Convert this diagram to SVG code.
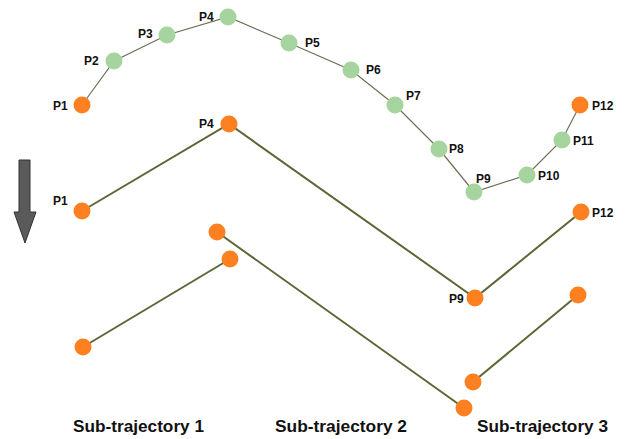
<svg xmlns="http://www.w3.org/2000/svg" width="629" height="439" viewBox="0 0 629 439">
<style>
.thin{stroke:#6e6e55;stroke-width:1.2;fill:none}
.thick{stroke:#5a6836;stroke-width:2;fill:none}
.o{fill:#ff8020}
.g{fill:#a5d49e}
.lb{font-family:"Liberation Sans",Arial,sans-serif;font-weight:bold;font-size:12px;fill:#111}
.sub{font-family:"Liberation Sans",Arial,sans-serif;font-weight:bold;font-size:16px;fill:#111}
</style>
<rect width="629" height="439" fill="#fff"/>
<g id="connectors">
<polyline class="thin" points="82,105 114,61 167,35 228,17 289,43 351,70 395,105 439,149 474,192 527,175 562,140 580,105"/>
<polyline class="thick" points="82,211 229,124 475,298 581,212"/>
<line class="thick" x1="83" y1="347" x2="230" y2="259"/>
<line class="thick" x1="217" y1="232" x2="464" y2="408"/>
<line class="thick" x1="473" y1="382" x2="578" y2="295"/>
</g>
<g id="arrow">
<polygon points="19,160 30,160 30,212 36,212 25,243 14,212 19,212" fill="#5a5a5a" stroke="#333" stroke-width="1"/>
</g>
<g id="top-P1"><circle class="o" cx="82" cy="105" r="8.5"/><text class="lb" x="53" y="110">P1</text></g>
<g id="top-P2"><circle class="g" cx="114" cy="61" r="8.5"/><text class="lb" x="84" y="65">P2</text></g>
<g id="top-P3"><circle class="g" cx="167" cy="35" r="8.5"/><text class="lb" x="138" y="38">P3</text></g>
<g id="top-P4"><circle class="g" cx="228" cy="17" r="8.5"/><text class="lb" x="199" y="21">P4</text></g>
<g id="top-P5"><circle class="g" cx="289" cy="43" r="8.5"/><text class="lb" x="305" y="47">P5</text></g>
<g id="top-P6"><circle class="g" cx="351" cy="70" r="8.5"/><text class="lb" x="366" y="74">P6</text></g>
<g id="top-P7"><circle class="g" cx="395" cy="105" r="8.5"/><text class="lb" x="406" y="100">P7</text></g>
<g id="top-P8"><circle class="g" cx="439" cy="149" r="8.5"/><text class="lb" x="449" y="153">P8</text></g>
<g id="top-P9"><circle class="g" cx="474" cy="192" r="8.5"/><text class="lb" x="476" y="183">P9</text></g>
<g id="top-P10"><circle class="g" cx="527" cy="175" r="8.5"/><text class="lb" x="538" y="180">P10</text></g>
<g id="top-P11"><circle class="g" cx="562" cy="140" r="8.5"/><text class="lb" x="573" y="145">P11</text></g>
<g id="top-P12"><circle class="o" cx="580" cy="105" r="8.5"/><text class="lb" x="592" y="110">P12</text></g>
<g id="mid-P1"><circle class="o" cx="82" cy="211" r="8.5"/><text class="lb" x="53" y="205">P1</text></g>
<g id="mid-P4"><circle class="o" cx="229" cy="124" r="8.5"/><text class="lb" x="199" y="128">P4</text></g>
<g id="mid-P9"><circle class="o" cx="475" cy="298" r="8.5"/><text class="lb" x="449" y="303">P9</text></g>
<g id="mid-P12"><circle class="o" cx="581" cy="212" r="8.5"/><text class="lb" x="592" y="217">P12</text></g>
<g id="sub1-a"><circle class="o" cx="83" cy="347" r="8.5"/></g>
<g id="sub1-b"><circle class="o" cx="230" cy="259" r="8.5"/></g>
<g id="sub2-a"><circle class="o" cx="217" cy="232" r="8.5"/></g>
<g id="sub2-b"><circle class="o" cx="464" cy="408" r="8.5"/></g>
<g id="sub3-a"><circle class="o" cx="473" cy="382" r="8.5"/></g>
<g id="sub3-b"><circle class="o" cx="578" cy="295" r="8.5"/></g>
<g id="labels">
<text class="sub" x="73" y="432" textLength="131" lengthAdjust="spacingAndGlyphs">Sub-trajectory 1</text>
<text class="sub" x="275" y="432" textLength="132" lengthAdjust="spacingAndGlyphs">Sub-trajectory 2</text>
<text class="sub" x="477" y="432" textLength="131" lengthAdjust="spacingAndGlyphs">Sub-trajectory 3</text>
</g>
</svg>
